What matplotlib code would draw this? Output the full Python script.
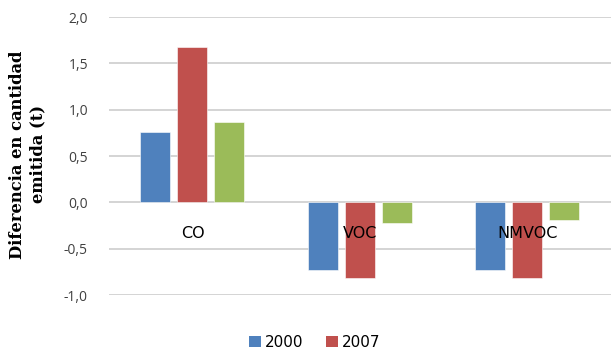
import matplotlib
matplotlib.use("Agg")
import matplotlib.pyplot as plt
import numpy as np
from matplotlib.patches import Patch

# Data
categorias = ["CO", "VOC", "NMVOC"]
serie_2000 = [0.76, -0.73, -0.73]
serie_2007 = [1.68, -0.82, -0.82]
serie_3 = [0.87, -0.22, -0.19]
etiquetas_y = ["-1,0", "-0,5", "0,0", "0,5", "1,0", "1,5", "2,0"]
valores_y = [-1.0, -0.5, 0.0, 0.5, 1.0, 1.5, 2.0]

azul = "#4f81bd"
rojo = "#c0504d"
verde = "#9bbb59"

fig = plt.figure(figsize=(6.11, 3.51), dpi=100)
ax = fig.add_axes([0.178, 0.1595, 0.822, 0.792])

x = np.arange(len(categorias)) + 0.5
ancho = 0.179
paso = 0.221
for off, vals, col in [(-paso, serie_2000, azul), (0, serie_2007, rojo), (paso, serie_3, verde)]:
    ax.bar(x + off, vals, width=ancho, color=col, edgecolor="white", linewidth=0.4, zorder=2)

ax.set_xlim(0, 3)
ax.set_ylim(-1.0, 2.0)
ax.set_yticks(valores_y)
ax.set_yticklabels(etiquetas_y, fontfamily="Open Sans", fontsize=10, color="#404040")
ax.tick_params(axis="y", length=0, pad=15)
ax.set_xticks([])
ax.grid(axis="y", color="#d4d4d4", linewidth=1.4, zorder=0)
ax.set_axisbelow(True)
for s in ax.spines.values():
    s.set_visible(False)

# Category labels next to the zero line
for xi, nombre in zip(x, categorias):
    ax.text(xi, -0.335, nombre, ha="center", va="center", fontsize=11.5,
            fontfamily="DejaVu Sans", color="black", zorder=3)

fig.text(0.045, 0.56, "Diferencia en cantidad\nemitida (t)", rotation=90,
         ha="center", va="center", fontfamily="DejaVu Serif",
         fontweight="bold", fontsize=11.8, linespacing=1.3)

handles = [Patch(facecolor=azul, label="2000"), Patch(facecolor=rojo, label="2007")]
fig.legend(handles=handles, loc="center", bbox_to_anchor=(0.515, 0.025), ncol=2,
           frameon=False, prop={"family": "DejaVu Sans", "size": 11},
           handlelength=0.8, handleheight=0.8, handletextpad=0.25, columnspacing=1.5)

fig.savefig("out.png", dpi=100, facecolor="white")
